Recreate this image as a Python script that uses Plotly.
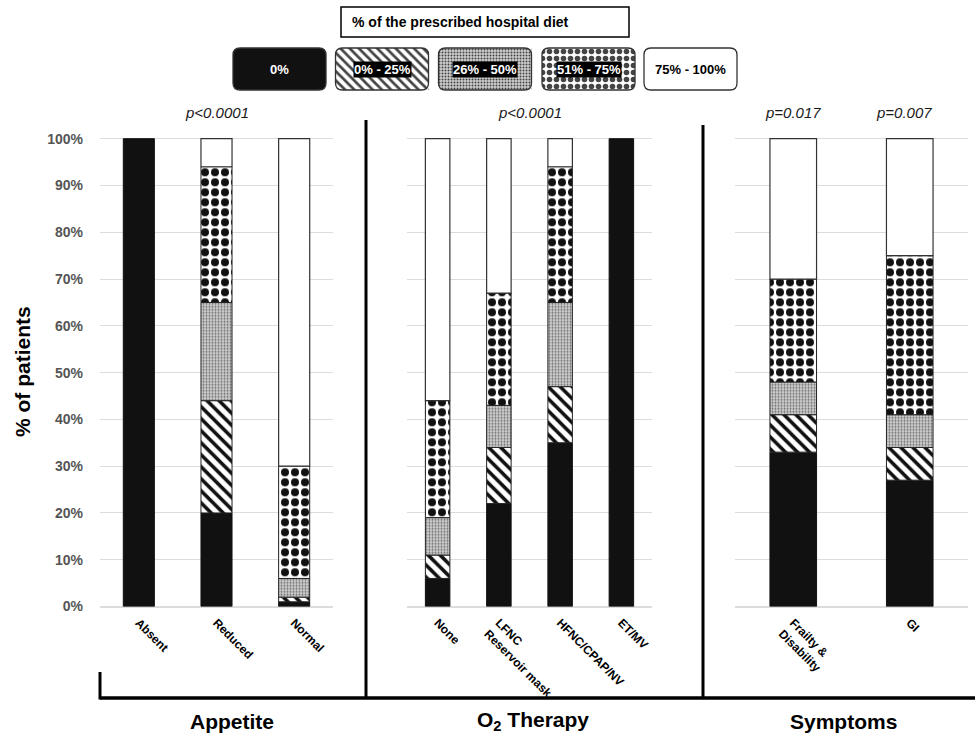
import plotly.graph_objects as go

W, H = 975, 736

# ---------------- data ----------------
appetite_cats = ["Absent", "Reduced", "Normal"]
o2_cats = ["None", "LFNC<br>Reservoir mask", "HFNC/CPAP/NV", "ET/MV"]
symptom_cats = ["Frailty &<br>Disability", "GI"]

levels = ["0%", "0% - 25%", "26% - 50%", "51% - 75%", "75% - 100%"]

# % of patients per level (Appetite, O2 therapy, Symptoms)
appetite_0 = [100, 20, 1]
appetite_0_25 = [0, 24, 1]
appetite_26_50 = [0, 21, 4]
appetite_51_75 = [0, 29, 24]
appetite_75_100 = [0, 6, 70]

o2_0 = [6, 22, 35, 100]
o2_0_25 = [5, 12, 12, 0]
o2_26_50 = [8, 9, 18, 0]
o2_51_75 = [25, 24, 29, 0]
o2_75_100 = [56, 33, 6, 0]

symptoms_0 = [33, 27]
symptoms_0_25 = [8, 7]
symptoms_26_50 = [7, 7]
symptoms_51_75 = [22, 34]
symptoms_75_100 = [30, 25]

p_values = ["p<0.0001", "p<0.0001", "p=0.017", "p=0.007"]
y_ticks = [0, 10, 20, 30, 40, 50, 60, 70, 80, 90, 100]

# ---------------- helpers ----------------
def px(x):
    return x / W


def py(y):
    return 1 - y / H


FONT = "Liberation Sans, Arial, Helvetica, sans-serif"

styles = [
    dict(color="#111111", line=dict(color="#111111", width=1)),
    dict(color="white", line=dict(color="#222222", width=1),
         pattern=dict(shape="\\", fgcolor="#111111", bgcolor="white", size=8.5, solidity=0.42,
                      fgopacity=1)),
    dict(color="#c8c8c8", line=dict(color="#222222", width=1),
         pattern=dict(shape=".", fgcolor="#6a6a6a", bgcolor="#cfcfcf", size=3, solidity=0.35,
                      fgopacity=1)),
    dict(color="white", line=dict(color="#222222", width=1),
         pattern=dict(shape=".", fgcolor="#111111", bgcolor="white", size=10, solidity=0.5,
                      fgopacity=1)),
    dict(color="white", line=dict(color="#333333", width=1.2)),
]

panels = [
    (appetite_cats, [appetite_0, appetite_0_25, appetite_26_50, appetite_51_75, appetite_75_100], "x", "y"),
    (o2_cats, [o2_0, o2_0_25, o2_26_50, o2_51_75, o2_75_100], "x2", "y2"),
    (symptom_cats, [symptoms_0, symptoms_0_25, symptoms_26_50, symptoms_51_75, symptoms_75_100], "x3", "y3"),
]

fig = go.Figure()

for cats, series, xa, ya in panels:
    base = [0] * len(cats)
    for lvl, vals, st in zip(levels, series, styles):
        xs, ys, bs = [], [], []
        for c, v, b in zip(cats, vals, base):
            if v > 0:
                xs.append(c)
                ys.append(v)
                bs.append(b)
        base = [b + v for b, v in zip(base, vals)]
        if xs:
            fig.add_trace(go.Bar(x=xs, y=ys, base=bs, name=lvl, width=0.4,
                                 marker=st, xaxis=xa, yaxis=ya, showlegend=False,
                                 hoverinfo="skip"))

# ---------------- legend boxes (own hidden axes) ----------------
leg_x = [279.5, 382, 485, 588.5, 690.5]
leg_w = 93
leg_top, leg_bot = 48, 90
leg_colors = ["#111111", "white", "#cfcfcf", "white", "white"]
leg_shapes = ["", "\\", ".", ".", ""]
leg_fg = ["#111111", "#111111", "#6a6a6a", "#111111", "white"]
leg_bg = ["#111111", "white", "#cfcfcf", "white", "white"]
leg_size = [8, 6.5, 3, 7, 8]
leg_sol = [0.3, 0.42, 0.35, 0.5, 0.3]
fig.add_trace(go.Bar(
    x=leg_x, y=[1] * 5, base=[0] * 5, width=leg_w,
    marker=dict(color=leg_colors, line=dict(width=0),
                pattern=dict(shape=leg_shapes, fgcolor=leg_fg, bgcolor=leg_bg,
                             size=leg_size, solidity=leg_sol, fgopacity=1)),
    xaxis="x4", yaxis="y4", showlegend=False, hoverinfo="skip"))

shapes = []
annotations = []

# rounded outlines with white corner masks
r = 7
for cx in leg_x:
    x0, x1 = cx - leg_w / 2, cx + leg_w / 2
    y0, y1 = leg_top, leg_bot
    corners = [
        (x0, y0, x0 + r, y0, x0, y0 + r),
        (x1, y0, x1 - r, y0, x1, y0 + r),
        (x1, y1, x1 - r, y1, x1, y1 - r),
        (x0, y1, x0 + r, y1, x0, y1 - r),
    ]
    for cxp, cyp, ax, ay, bx, by in corners:
        mpath = (f"M {px(cxp)},{py(cyp)} L {px(ax)},{py(ay)} Q {px(cxp)},{py(cyp)} "
                 f"{px(bx)},{py(by)} Z")
        shapes.append(dict(type="path", xref="paper", yref="paper", path=mpath,
                           line=dict(width=0), fillcolor="white", layer="above"))
    path = (f"M {px(x0 + r)},{py(y0)} L {px(x1 - r)},{py(y0)} Q {px(x1)},{py(y0)} {px(x1)},{py(y0 + r)} "
            f"L {px(x1)},{py(y1 - r)} Q {px(x1)},{py(y1)} {px(x1 - r)},{py(y1)} "
            f"L {px(x0 + r)},{py(y1)} Q {px(x0)},{py(y1)} {px(x0)},{py(y1 - r)} "
            f"L {px(x0)},{py(y0 + r)} Q {px(x0)},{py(y0)} {px(x0 + r)},{py(y0)} Z")
    shapes.append(dict(type="path", xref="paper", yref="paper", path=path,
                       line=dict(color="#333333", width=1.3), fillcolor="rgba(0,0,0,0)"))

ann_common = dict(showarrow=False, xanchor="center", yanchor="middle")

for i, (cx, lab) in enumerate(zip(leg_x, levels)):
    a = dict(x=px(cx), y=py(69), xref="paper", yref="paper", text=f"<b>{lab}</b>", **ann_common)
    if i == 0:
        a["font"] = dict(family=FONT, size=13, color="white")
    elif i == 4:
        a["font"] = dict(family=FONT, size=13, color="black")
    else:
        a["font"] = dict(family=FONT, size=13, color="white")
        a["bgcolor"] = "black"
        a["borderpad"] = 0
    annotations.append(a)

# legend title box
shapes.append(dict(type="rect", xref="paper", yref="paper", x0=px(341), x1=px(629), y0=py(37), y1=py(7),
                   line=dict(color="black", width=1.5), fillcolor="white"))
annotations.append(dict(x=px(350), y=py(22), xref="paper", yref="paper", xanchor="left", yanchor="middle",
                        text="<b>% of the prescribed hospital diet</b>", showarrow=False,
                        font=dict(family=FONT, size=14, color="black")))

# dividers and bottom bracket
for xv, ytop in ((366, 120), (703, 125)):
    shapes.append(dict(type="line", xref="paper", yref="paper", x0=px(xv), x1=px(xv),
                       y0=py(ytop), y1=py(698), line=dict(color="black", width=3)))
shapes.append(dict(type="line", xref="paper", yref="paper", x0=px(100), x1=px(975),
                   y0=py(698), y1=py(698), line=dict(color="black", width=3.5)))
shapes.append(dict(type="line", xref="paper", yref="paper", x0=px(100), x1=px(100),
                   y0=py(672), y1=py(699.5), line=dict(color="black", width=3)))

# group labels
for text, cx in (("Appetite", 232), ("O<sub>2</sub> Therapy", 533), ("Symptoms", 843)):
    annotations.append(dict(x=px(cx), y=py(721), xref="paper", yref="paper", text=f"<b>{text}</b>",
                            font=dict(family=FONT, size=21, color="black"), **ann_common))

# p-values
for text, xa, xv in ((p_values[0], "x", 1), (p_values[1], "x2", 1.5),
                     (p_values[2], "x3", 0), (p_values[3], "x3", 0.95)):
    annotations.append(dict(x=xv, y=py(112), xref=xa, yref="paper", text=f"<i>{text}</i>",
                            font=dict(family=FONT, size=15, color="#1a1a1a"), **ann_common))

# y title
annotations.append(dict(x=px(22), y=py(372), xref="paper", yref="paper", text="<b>% of patients</b>",
                        textangle=-90, font=dict(family=FONT, size=21, color="black"), **ann_common))

y_dom = [py(606.5), py(137.3)]
yaxis_common = dict(domain=y_dom, range=[0, 100.3], tickvals=y_ticks, showgrid=True,
                    gridcolor="#dcdcdc", gridwidth=1, zeroline=True, zerolinecolor="#dcdcdc",
                    showline=False, ticks="", fixedrange=True)
xaxis_common = dict(type="category", showgrid=False, zeroline=False, showline=False, ticks="",
                    tickangle=45, ticklabelstandoff=6, fixedrange=True,
                    tickfont=dict(family=FONT, size=12, color="black", weight="bold"))

fig.update_layout(
    width=W, height=H,
    margin=dict(l=0, r=0, t=0, b=0, autoexpand=False),
    paper_bgcolor="white", plot_bgcolor="white",
    barmode="overlay",
    bargap=0,
    showlegend=False,
    xaxis=dict(domain=[px(100), px(333)], range=[-0.5, 2.5], anchor="y", **xaxis_common),
    xaxis2=dict(domain=[px(407), px(652)], range=[-0.5, 3.5], anchor="y2", **xaxis_common),
    xaxis3=dict(domain=[px(735), px(968)], range=[-0.5, 1.5], anchor="y3", **xaxis_common),
    yaxis=dict(anchor="x", showticklabels=True, ticktext=[f"{v}%" for v in y_ticks],
               tickfont=dict(family=FONT, size=14, color="#555555", weight="bold"),
               ticklabelstandoff=16, **yaxis_common),
    yaxis2=dict(anchor="x2", showticklabels=False, **yaxis_common),
    yaxis3=dict(anchor="x3", showticklabels=False, **yaxis_common),
    xaxis4=dict(domain=[0, 1], range=[0, W], visible=False, fixedrange=True, anchor="y4"),
    yaxis4=dict(domain=[py(leg_bot), py(leg_top)], range=[0, 1], visible=False, fixedrange=True,
                anchor="x4"),
    shapes=shapes,
    annotations=annotations,
)

fig.write_html("out.html", config={"displayModeBar": False, "staticPlot": True},
               post_script="document.body.style.margin='0px';document.body.style.overflow='hidden';")
